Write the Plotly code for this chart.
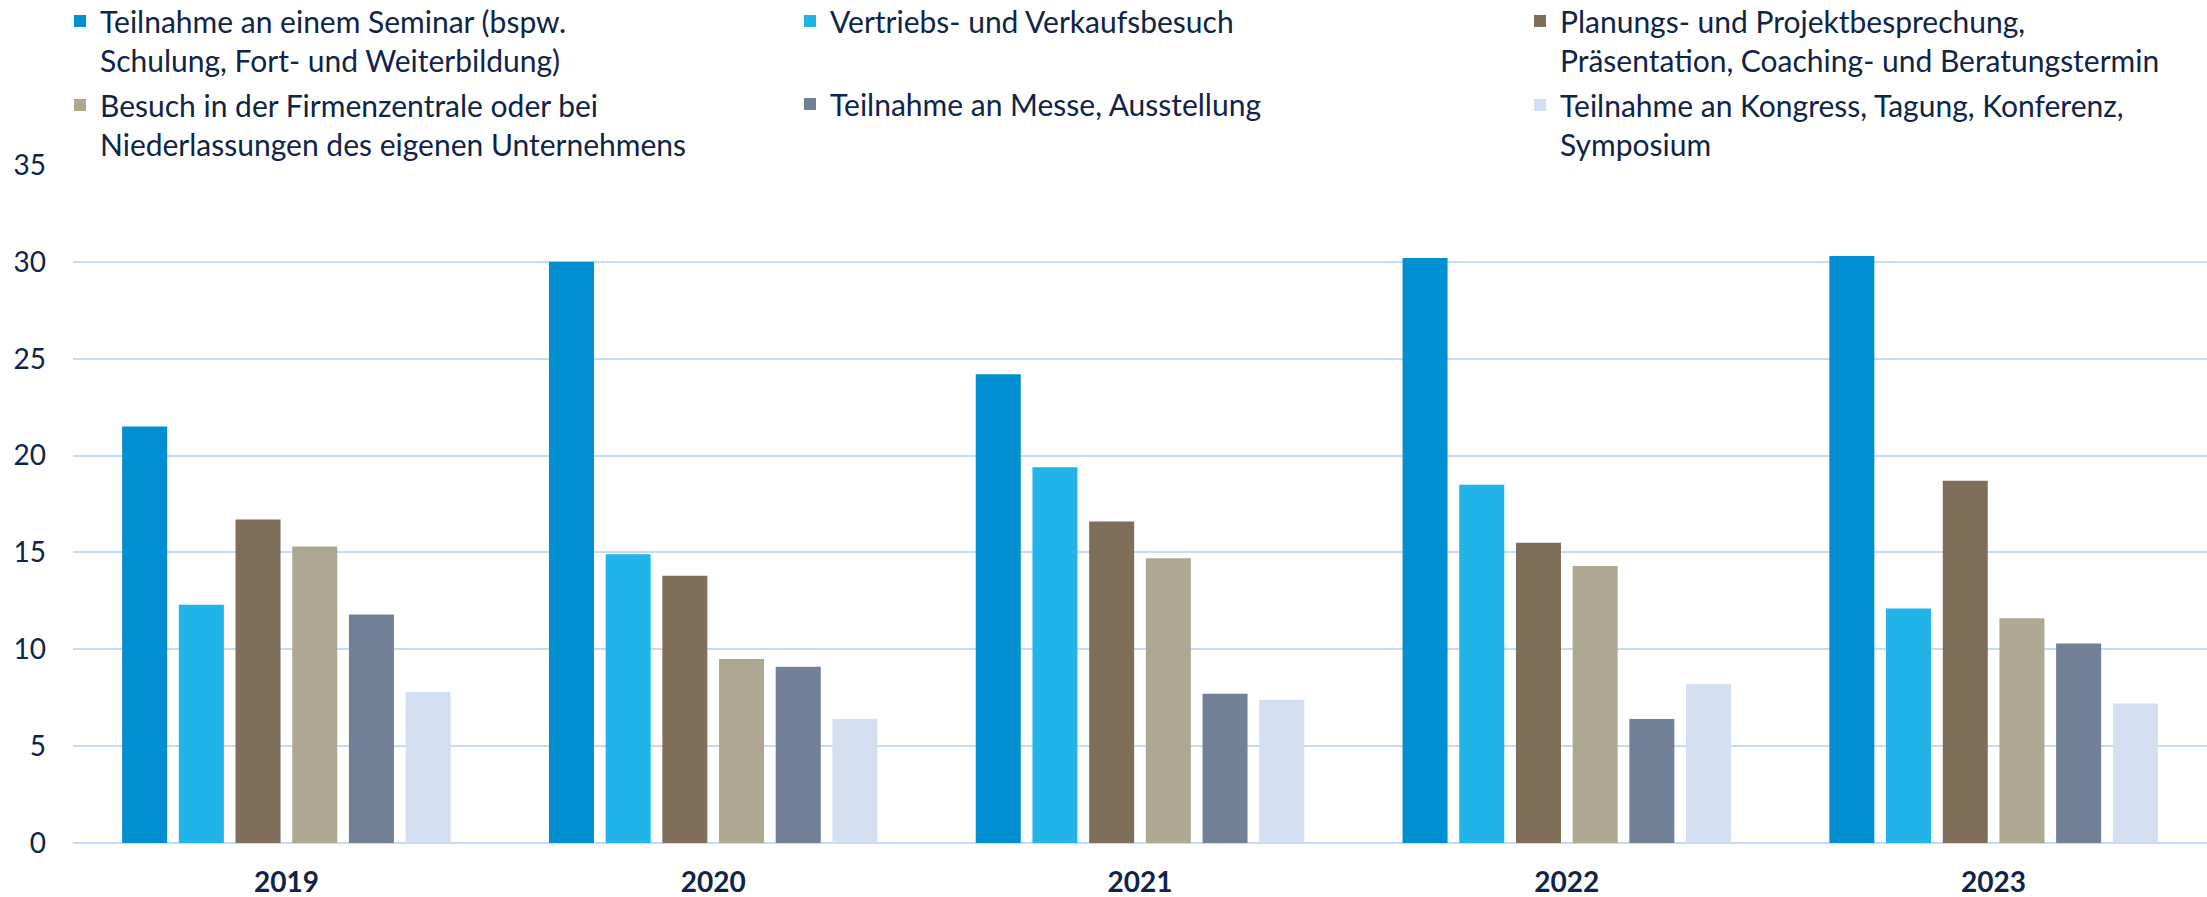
import plotly.graph_objects as go

# ---- data ----
years = ["2019", "2020", "2021", "2022", "2023"]
series_names = [
    "Teilnahme an einem Seminar (bspw.<br>Schulung, Fort- und Weiterbildung)",
    "Vertriebs- und Verkaufsbesuch",
    "Planungs- und Projektbesprechung,<br>Präsentation, Coaching- und Beratungstermin",
    "Besuch in der Firmenzentrale oder bei<br>Niederlassungen des eigenen Unternehmens",
    "Teilnahme an Messe, Ausstellung",
    "Teilnahme an Kongress, Tagung, Konferenz,<br>Symposium",
]
seminar = [21.5, 30.0, 24.2, 30.2, 30.3]
vertrieb = [12.3, 14.9, 19.4, 18.5, 12.1]
planung = [16.7, 13.8, 16.6, 15.5, 18.7]
besuch = [15.3, 9.5, 14.7, 14.3, 11.6]
messe = [11.8, 9.1, 7.7, 6.4, 10.3]
kongress = [7.8, 6.4, 7.4, 8.2, 7.2]
y_ticks = [0, 5, 10, 15, 20, 25, 30, 35]

series_values = [seminar, vertrieb, planung, besuch, messe, kongress]
colors = ["#008FD0", "#21B4E8", "#7F6F5A", "#AEA792", "#718097", "#D3DEF1"]
legend_ids = ["legend", "legend2", "legend3", "legend", "legend2", "legend3"]

TEXT = "#0F2448"
GRID = "#C4DCF8"
FONT = "Lato"

fig = go.Figure()
for i, (name, vals) in enumerate(zip(series_names, series_values)):
    fig.add_trace(go.Bar(
        x=years, y=vals, name=name,
        marker=dict(color=colors[i], line=dict(width=0)),
        legend=legend_ids[i], legendgroup=f"g{i}",
    ))

W, H = 2207, 897
M_T, M_B = 165, 54
plot_h = H - M_T - M_B
leg_top_px = -5
leg_common = dict(
    orientation="v", xref="container", yref="paper",
    xanchor="left", yanchor="top", y=1 + (M_T - leg_top_px) / plot_h,
    font=dict(family=FONT, size=30, color=TEXT),
    valign="top", bgcolor="rgba(0,0,0,0)", borderwidth=0,
)

fig.update_layout(
    width=W, height=H,
    paper_bgcolor="white", plot_bgcolor="white",
    margin=dict(l=73, r=0, t=M_T, b=M_B, autoexpand=False),
    barmode="group", bargap=0.203, bargroupgap=0.206,
    font=dict(family=FONT, color=TEXT),
    legend=dict(x=60 / W, tracegroupgap=3, **leg_common),
    legend2=dict(x=790 / W, tracegroupgap=41, **leg_common),
    legend3=dict(x=1520 / W, tracegroupgap=3, **leg_common),
    xaxis=dict(
        type="category", showgrid=False, showline=False, ticks="",
        tickfont=dict(family=FONT, size=28, color=TEXT, weight="bold"),
        ticklabelstandoff=20,
    ),
    yaxis=dict(
        range=[0, 35], tickvals=y_ticks, showgrid=True, gridcolor=GRID, gridwidth=2,
        zeroline=True, zerolinecolor=GRID, zerolinewidth=2, showline=False, ticks="",
        tickfont=dict(family=FONT, size=28, color=TEXT),
        ticklabelstandoff=26,
    ),
    showlegend=True,
)

fig.write_html(
    "out.html",
    config={"displayModeBar": False},
    post_script="document.body.style.margin='0px';",
)
